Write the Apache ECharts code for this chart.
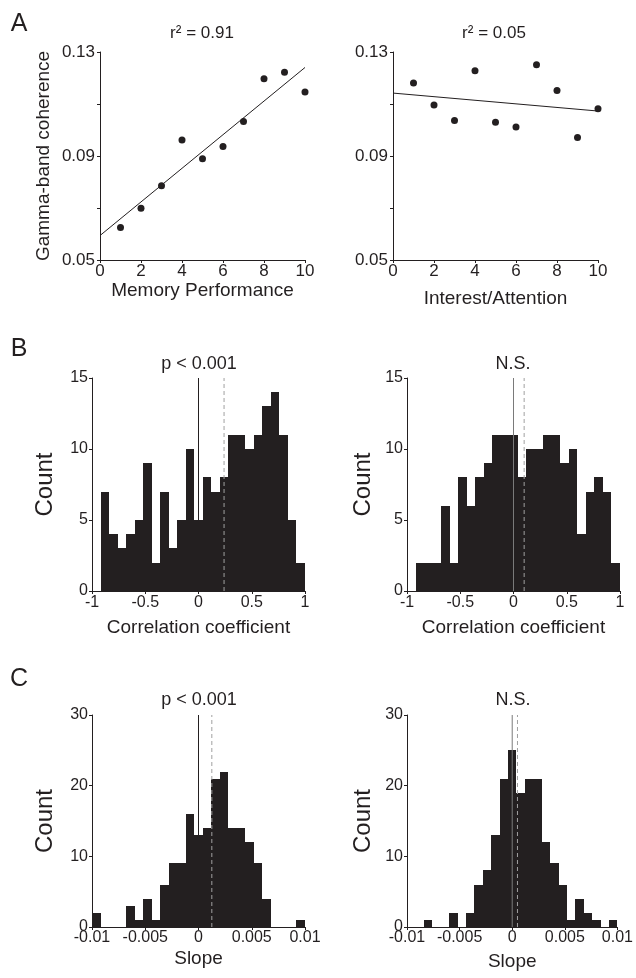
<!DOCTYPE html>
<html>
<head>
<meta charset="utf-8">
<title>Gamma-band coherence vs. ratings</title>
<style>html,body{margin:0;padding:0;background:#fff}#chart{width:636px;height:978px}</style>
<script src="https://cdn.jsdelivr.net/npm/echarts@6/dist/echarts.min.js"></script>
</head>
<body>
<div id="chart"></div>
<script>
// ---- A: coherence per rating level ----
const ratingX = [1, 2, 3, 4, 5, 6, 7, 8, 9, 10];
const memoryCoherence = [0.0625, 0.0699, 0.0786, 0.0962, 0.0889, 0.0937, 0.1033, 0.1197, 0.1222, 0.1146];
const interestCoherence = [0.1181, 0.1096, 0.1037, 0.1228, 0.1030, 0.1012, 0.1251, 0.1152, 0.0971, 0.1082];
const coherenceLabels = [0.05, 0.09, 0.13];
const r2Text = ["r\u00b2 = 0.91", "r\u00b2 = 0.05"];

// ---- B: correlation coefficient histograms ----
const corrEdges = [-1, -0.92, -0.84, -0.76, -0.68, -0.6, -0.52, -0.44, -0.36, -0.28, -0.2, -0.12, -0.04,
  0.04, 0.12, 0.2, 0.28, 0.36, 0.44, 0.52, 0.6, 0.68, 0.76, 0.84, 0.92, 1];
const corrCountsMemory = [0, 7, 4, 3, 4, 5, 9, 2, 7, 3, 5, 10, 5, 8, 7, 8, 11, 11, 10, 11, 13, 14, 11, 5, 2];
const corrCountsInterest = [0, 2, 2, 2, 6, 2, 8, 6, 8, 9, 11, 11, 11, 8, 10, 10, 11, 11, 9, 10, 4, 7, 8, 7, 2];
const corrMeans = [0.24, 0.10];

// ---- C: slope histograms ----
const slopeEdges = [-0.01, -0.0092, -0.0084, -0.0076, -0.0068, -0.006, -0.0052, -0.0044, -0.0036, -0.0028, -0.002, -0.0012, -0.0004,
  0.0004, 0.0012, 0.002, 0.0028, 0.0036, 0.0044, 0.0052, 0.006, 0.0068, 0.0076, 0.0084, 0.0092, 0.01];
const slopeCountsMemory = [2, 0, 0, 0, 3, 1, 4, 1, 6, 9, 9, 16, 13, 14, 21, 22, 14, 14, 12, 9, 4, 0, 0, 0, 1];
const slopeCountsInterest = [0, 0, 1, 0, 0, 2, 0, 2, 6, 8, 13, 21, 25, 19, 21, 21, 12, 9, 6, 1, 4, 2, 1, 0, 1];
const slopeMeans = [0.00125, 0.0005];

const statText = ["p < 0.001", "N.S."];

const INK = "#231f20";
const FONT = "Liberation Sans, Arial, sans-serif";

// least squares fit, drawn across the x range of the axis
function fitLine(xs, ys, x0, x1) {
  const n = xs.length;
  const mx = xs.reduce((a, b) => a + b, 0) / n;
  const my = ys.reduce((a, b) => a + b, 0) / n;
  let sxy = 0, sxx = 0;
  for (let i = 0; i < n; i++) {
    sxy += (xs[i] - mx) * (ys[i] - my);
    sxx += (xs[i] - mx) * (xs[i] - mx);
  }
  const m = sxy / sxx, b = my - m * mx;
  return [[x0, b + m * x0], [x1, b + m * x1]];
}

function histData(edges, counts) {
  return counts.map((c, i) => [edges[i], edges[i + 1], c]);
}

// one rect per bin, snapped to whole pixels so neighbours join without seams
function renderBin(params, api) {
  if (!api.value(2)) return null;
  const p0 = api.coord([api.value(0), api.value(2)]);
  const p1 = api.coord([api.value(1), 0]);
  const x0 = Math.round(p0[0]), x1 = Math.round(p1[0]);
  const y0 = Math.round(p0[1]), y1 = Math.round(p1[1]);
  return {
    type: "rect",
    shape: { x: x0, y: y0, width: x1 - x0, height: y1 - y0 },
    style: { fill: INK, opacity: 1 },
  };
}

const grids = [
  { left: 100, top: 52, width: 205, height: 208 },
  { left: 393, top: 52, width: 205, height: 208 },
  { left: 92, top: 378, width: 213, height: 213 },
  { left: 407, top: 378, width: 213, height: 213 },
  { left: 92, top: 715, width: 213, height: 212 },
  { left: 407, top: 715, width: 213, height: 212 },
];

function baseAxis(extra) {
  return Object.assign({
    type: "value",
    splitLine: { show: false },
    axisLine: { show: true, onZero: false, lineStyle: { color: INK, width: 1 } },
    axisTick: { show: true, length: 3, lineStyle: { color: INK } },
    axisLabel: { color: INK, fontFamily: FONT, fontSize: 16, margin: 4 },
    nameTextStyle: { color: INK, fontFamily: FONT, fontSize: 19 },
    nameLocation: "middle",
  }, extra);
}

const fmtSlope = (v) => (Math.abs(v) < 1e-12 ? "0" : String(+v.toFixed(3)));
const fmtCoh = (v) => (coherenceLabels.some((t) => Math.abs(t - v) < 1e-6) ? v.toFixed(2) : "");

const xAxes = [
  baseAxis({ gridIndex: 0, min: 0, max: 10, interval: 2, name: "Memory Performance", nameGap: 21,
    axisLabel: { color: INK, fontFamily: FONT, fontSize: 17, margin: 3 } }),
  baseAxis({ gridIndex: 1, min: 0, max: 10, interval: 2, name: "Interest/Attention", nameGap: 29,
    axisLabel: { color: INK, fontFamily: FONT, fontSize: 17, margin: 3 } }),
  baseAxis({ gridIndex: 2, min: -1, max: 1, interval: 0.5, name: "Correlation coefficient", nameGap: 27 }),
  baseAxis({ gridIndex: 3, min: -1, max: 1, interval: 0.5, name: "Correlation coefficient", nameGap: 27 }),
  baseAxis({ gridIndex: 4, min: -0.01, max: 0.01, interval: 0.005, name: "Slope", nameGap: 22,
    axisLabel: { color: INK, fontFamily: FONT, fontSize: 16, margin: 3, formatter: fmtSlope } }),
  baseAxis({ gridIndex: 5, min: -0.01, max: 0.01, interval: 0.005, name: "Slope", nameGap: 25,
    axisLabel: { color: INK, fontFamily: FONT, fontSize: 16, margin: 3, formatter: fmtSlope } }),
];

const yAxes = [
  baseAxis({ gridIndex: 0, min: 0.05, max: 0.13, interval: 0.02, name: "Gamma-band coherence", nameGap: 47,
    axisLabel: { color: INK, fontFamily: FONT, fontSize: 17, margin: 5, formatter: fmtCoh } }),
  baseAxis({ gridIndex: 1, min: 0.05, max: 0.13, interval: 0.02,
    axisLabel: { color: INK, fontFamily: FONT, fontSize: 17, margin: 5, formatter: fmtCoh } }),
  baseAxis({ gridIndex: 2, min: 0, max: 15, interval: 5, name: "Count", nameGap: 35,
    nameTextStyle: { color: INK, fontFamily: FONT, fontSize: 24 } }),
  baseAxis({ gridIndex: 3, min: 0, max: 15, interval: 5, name: "Count", nameGap: 32,
    nameTextStyle: { color: INK, fontFamily: FONT, fontSize: 24 } }),
  baseAxis({ gridIndex: 4, min: 0, max: 30, interval: 10, name: "Count", nameGap: 35,
    nameTextStyle: { color: INK, fontFamily: FONT, fontSize: 24 } }),
  baseAxis({ gridIndex: 5, min: 0, max: 30, interval: 10, name: "Count", nameGap: 32,
    nameTextStyle: { color: INK, fontFamily: FONT, fontSize: 24 } }),
];

function scatter(idx, ys) {
  return {
    type: "scatter", xAxisIndex: idx, yAxisIndex: idx,
    data: ratingX.map((x, i) => [x, ys[i]]),
    symbolSize: 7, itemStyle: { color: INK, opacity: 1 }, z: 3,
  };
}
function fit(idx, ys) {
  return {
    type: "line", xAxisIndex: idx, yAxisIndex: idx,
    data: fitLine(ratingX, ys, 0, 10),
    symbol: "none", lineStyle: { color: INK, width: 1 }, z: 2,
  };
}
function hist(idx, edges, counts) {
  return {
    type: "custom", xAxisIndex: idx, yAxisIndex: idx,
    data: histData(edges, counts),
    encode: { x: [0, 1], y: 2 },
    renderItem: renderBin, z: 2,
  };
}
function vline(idx, x, top, color, dashed) {
  return {
    type: "line", xAxisIndex: idx, yAxisIndex: idx,
    data: [[x, 0], [x, top]], symbol: "none", silent: true,
    lineStyle: { color, width: 1, type: dashed ? [4, 3] : "solid" }, z: dashed ? 5 : 4,
  };
}

const series = [
  fit(0, memoryCoherence), scatter(0, memoryCoherence),
  fit(1, interestCoherence), scatter(1, interestCoherence),
  hist(2, corrEdges, corrCountsMemory),
  vline(2, 0, 15, INK, false), vline(2, corrMeans[0], 15, "#a0a0a0", true),
  hist(3, corrEdges, corrCountsInterest),
  vline(3, 0, 15, "#7a7a7a", false), vline(3, corrMeans[1], 15, "#a0a0a0", true),
  hist(4, slopeEdges, slopeCountsMemory),
  vline(4, 0, 30, INK, false), vline(4, slopeMeans[0], 30, "#a0a0a0", true),
  hist(5, slopeEdges, slopeCountsInterest),
  vline(5, 0, 30, "#7a7a7a", false), vline(5, slopeMeans[1], 30, "#a0a0a0", true),
];

function label(text, x, y, size) {
  return {
    type: "text", x, y, silent: true,
    style: { text, fill: INK, font: size + "px " + FONT, align: "center", verticalAlign: "middle" },
  };
}

const graphic = [
  label("A", 19, 24, 25), label("B", 19, 349, 25), label("C", 19, 679, 25),
  label(r2Text[0], 202, 33, 17), label(r2Text[1], 494, 33, 17),
  label(statText[0], 199, 364, 18), label(statText[1], 513, 364, 18),
  label(statText[0], 199, 700, 18), label(statText[1], 513, 700, 18),
];

const chart = echarts.init(document.getElementById("chart"), null, { renderer: "canvas" });
chart.setOption({
  animation: false,
  backgroundColor: "#fff",
  textStyle: { fontFamily: FONT },
  grid: grids,
  xAxis: xAxes,
  yAxis: yAxes,
  series,
  graphic,
});
window.addEventListener("resize", () => chart.resize());
</script>
</body>
</html>
